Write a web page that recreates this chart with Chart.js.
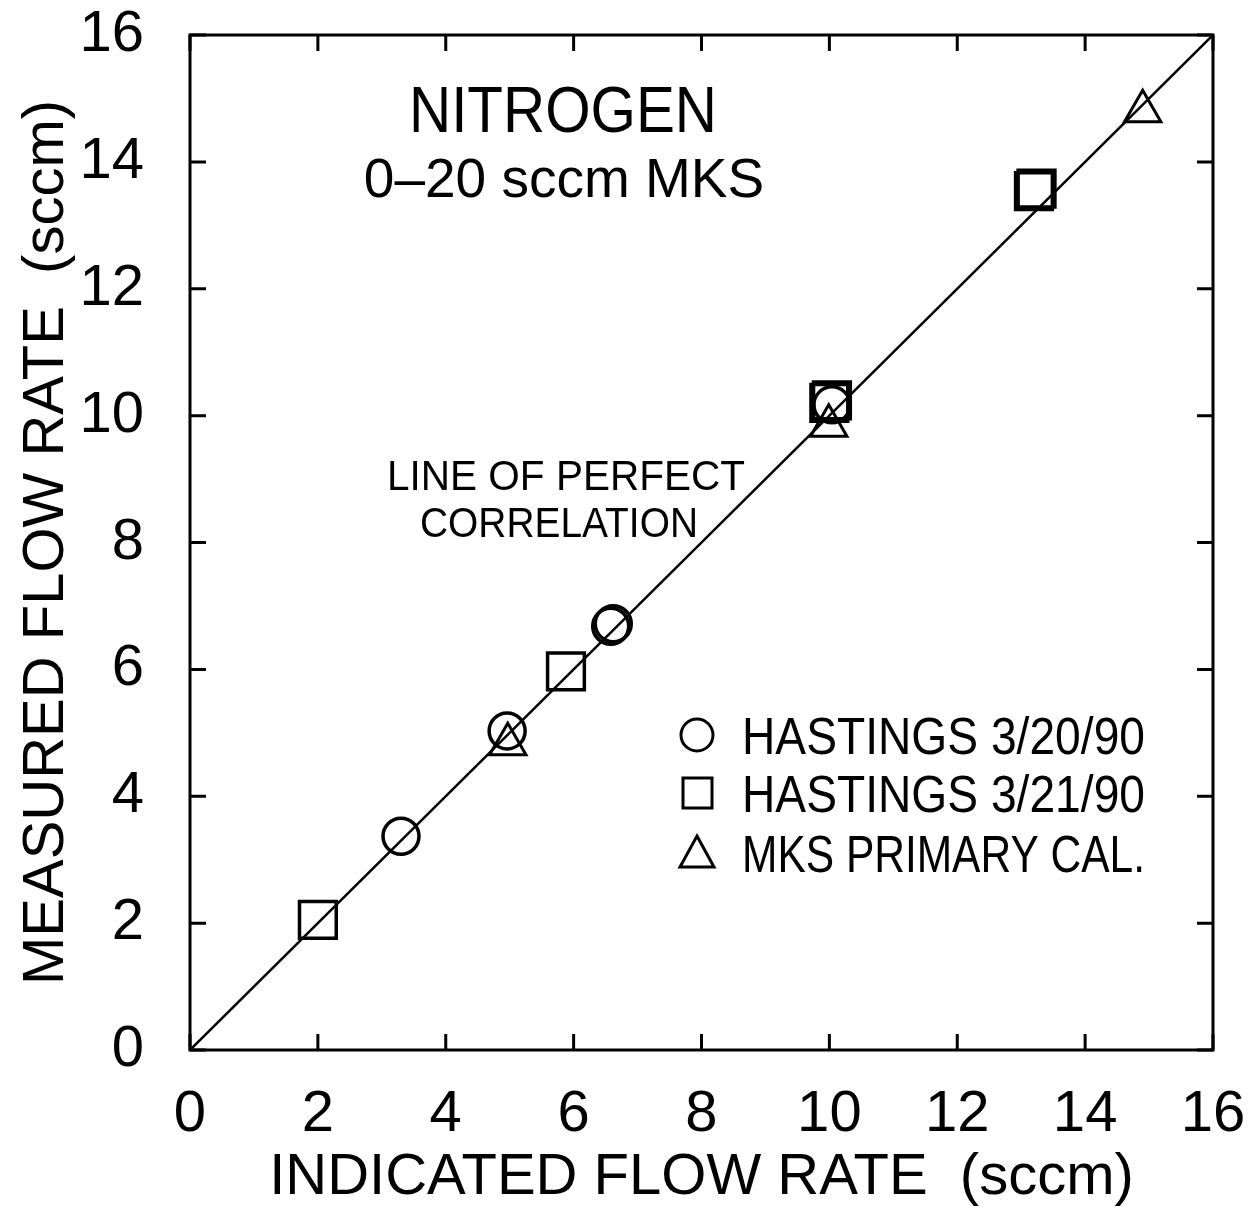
<!DOCTYPE html>
<html>
<head>
<meta charset="utf-8">
<script src="https://cdn.jsdelivr.net/npm/chart.js@4.4.1/dist/chart.umd.min.js"></script>
<style>
  html, body { margin: 0; padding: 0; background: #fff; }
  #wrap { width: 1257px; height: 1207px; }
</style>
</head>
<body>
<div id="wrap"><canvas id="miGrafica" width="1257" height="1207"></canvas></div>
<script>
"use strict";

// datos (sccm)
const circX = [3.3, 4.96, 6.58, 6.62, 10.04];
const circY = [3.37, 5.03, 6.68, 6.72, 10.17];
const sqX = [2.0, 5.88, 10.0, 10.04, 13.2, 13.24];
const sqY = [2.05, 5.97, 10.2, 10.24, 13.54, 13.58];
const triX = [4.97, 9.99, 14.9];
const triY = [4.82, 9.84, 14.8];
const lineX = [0, 16];
const lineY = [0, 16];
const tickVals = [0, 2, 4, 6, 8, 10, 12, 14, 16];

const nombres = ["HASTINGS 3/20/90", "HASTINGS 3/21/90", "MKS PRIMARY CAL."];

const FUENTE = "'Liberation Sans', Arial, Helvetica, sans-serif";

function puntos(xs, ys) {
    return xs.map((x, i) => ({ x: x, y: ys[i] }));
}

// ticks hacia adentro en los 4 lados + textos
const adornos = {
    id: "adornos",
    afterDraw(chart) {
        const ctx = chart.ctx;
        const a = chart.chartArea;
        const sx = chart.scales.x, sy = chart.scales.y;
        ctx.save();
        ctx.strokeStyle = "#000";
        ctx.lineWidth = 3;
        ctx.strokeRect(a.left, a.top, a.right - a.left, a.bottom - a.top);
        ctx.beginPath();
        tickVals.forEach(v => {
            const px = sx.getPixelForValue(v);
            const py = sy.getPixelForValue(v);
            ctx.moveTo(px, a.bottom); ctx.lineTo(px, a.bottom - 16);
            ctx.moveTo(px, a.top); ctx.lineTo(px, a.top + 16);
            ctx.moveTo(a.left, py); ctx.lineTo(a.left + 16, py);
            ctx.moveTo(a.right, py); ctx.lineTo(a.right - 16, py);
        });
        ctx.stroke();

        ctx.fillStyle = "#000";
        ctx.textBaseline = "alphabetic";
        ctx.textAlign = "center";
        ctx.font = "64px " + FUENTE;
        ctx.fillText("NITROGEN", 563, 132, 308);
        ctx.font = "55px " + FUENTE;
        ctx.fillText("0\u201320 sccm MKS", 564, 197, 404);
        ctx.font = "42px " + FUENTE;
        ctx.fillText("LINE OF PERFECT", 566, 490, 358);
        ctx.fillText("CORRELATION", 559, 537, 278);

        // leyenda
        ctx.textAlign = "left";
        ctx.font = "52px " + FUENTE;
        const filas = [735, 793, 853];
        filas.forEach((yy, i) => {
            ctx.fillText(nombres[i], 742, yy + 19, 403);
        });
        ctx.lineWidth = 3;
        ctx.beginPath();
        ctx.arc(697, filas[0], 16, 0, Math.PI * 2);
        ctx.stroke();
        ctx.strokeRect(683, filas[1] - 15, 29, 30);
        ctx.beginPath();
        ctx.moveTo(697, filas[2] - 17);
        ctx.lineTo(714, filas[2] + 14);
        ctx.lineTo(680, filas[2] + 14);
        ctx.closePath();
        ctx.stroke();
        ctx.restore();
    }
};

const ctx = document.getElementById("miGrafica").getContext("2d");
new Chart(ctx, {
    type: "scatter",
    data: {
        datasets: [
            {
                type: "line",
                label: "perfect",
                data: puntos(lineX, lineY),
                borderColor: "#000",
                borderWidth: 2.5,
                pointRadius: 0,
                fill: false
            },
            {
                label: nombres[0],
                data: puntos(circX, circY),
                pointStyle: "circle",
                pointRadius: 18,
                borderColor: "#000",
                backgroundColor: "rgba(0,0,0,0)",
                pointBorderWidth: 3.5
            },
            {
                label: nombres[1],
                data: puntos(sqX, sqY),
                pointStyle: "rect",
                pointRadius: 26,
                borderColor: "#000",
                backgroundColor: "rgba(0,0,0,0)",
                pointBorderWidth: 3.5
            },
            {
                label: nombres[2],
                data: puntos(triX, triY),
                pointStyle: "triangle",
                pointRadius: 21,
                borderColor: "#000",
                backgroundColor: "rgba(0,0,0,0)",
                pointBorderWidth: 3
            }
        ]
    },
    options: {
        responsive: false,
        animation: false,
        layout: { padding: { top: 35, right: 44, left: 0, bottom: 0 } },
        plugins: { legend: { display: false }, tooltip: { enabled: false } },
        scales: {
            x: {
                type: "linear",
                min: 0, max: 16,
                afterFit(scale) {
                    scale.height = 157;
                    scale.paddingLeft = 0; scale.paddingRight = 0;
                },
                afterBuildTicks(scale) { scale.ticks = tickVals.map(v => ({ value: v })); },
                grid: { display: false },
                border: { display: false },
                ticks: { color: "#000", padding: 22, maxRotation: 0, font: { family: FUENTE, size: 58 } },
                title: {
                    display: true,
                    text: "INDICATED FLOW RATE  (sccm)",
                    color: "#000",
                    padding: { top: 0, bottom: 0 },
                    font: { family: FUENTE, size: 58, lineHeight: 1 }
                }
            },
            y: {
                type: "linear",
                min: 0, max: 16,
                afterFit(scale) {
                    scale.width = 190;
                    scale.paddingTop = 0; scale.paddingBottom = 0;
                },
                afterBuildTicks(scale) { scale.ticks = tickVals.map(v => ({ value: v })); },
                grid: { display: false },
                border: { display: false },
                ticks: { color: "#000", padding: 38, font: { family: FUENTE, size: 58 } },
                title: {
                    display: true,
                    text: "MEASURED FLOW RATE  (sccm)",
                    color: "#000",
                    padding: { top: 18, bottom: 0 },
                    font: { family: FUENTE, size: 58, lineHeight: 1 }
                }
            }
        }
    },
    plugins: [adornos]
});
</script>
</body>
</html>
